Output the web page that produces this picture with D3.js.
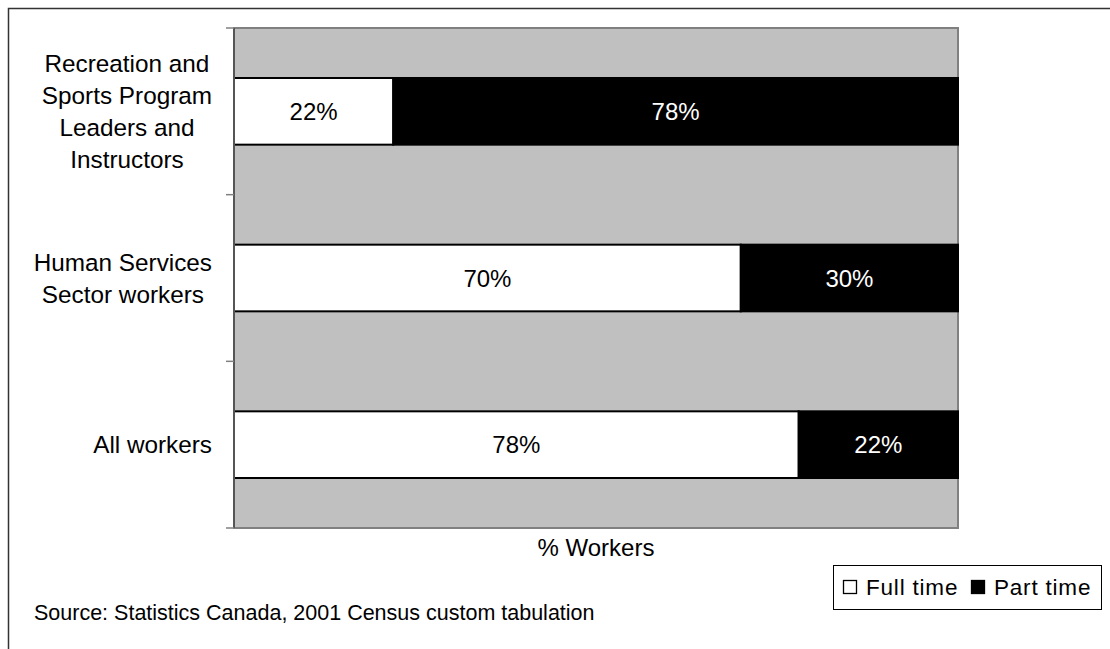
<!DOCTYPE html>
<html>
<head>
<meta charset="utf-8">
<script src="https://cdn.jsdelivr.net/npm/d3@7"></script>
<style>
  html, body { margin: 0; padding: 0; background: #fff; }
  svg { display: block; font-family: "Liberation Sans", Arial, sans-serif; }
</style>
</head>
<body>
<svg id="chart" width="1110" height="649"></svg>
<script>
// Occupation groups, shown top to bottom (each label wrapped onto lines)
const categories = [
  ["Recreation and", "Sports Program", "Leaders and", "Instructors"],
  ["Human Services", "Sector workers"],
  ["All workers"]
];
const fullTime = [22, 70, 78];
const partTime = [78, 30, 22];
const seriesNames = ["Full time", "Part time"];
const seriesFill = ["#ffffff", "#000000"];
const labelFill = ["#000000", "#ffffff"];
const xTitle = "% Workers";
const sourceNote = "Source: Statistics Canada, 2001 Census custom tabulation";

const svg = d3.select("#chart");
const plot = { left: 234, right: 958, top: 28, bottom: 528 };

// Outer frame
svg.append("rect")
  .attr("x", 8.5).attr("y", 8.5)
  .attr("width", 1200).attr("height", 700)
  .attr("fill", "none").attr("stroke", "#333").attr("stroke-width", 1.5);

const keys = categories.map((c, i) => i);
const y = d3.scaleBand().domain(keys).range([plot.top, plot.bottom]).paddingInner(0.6).paddingOuter(0.3);
const yBand = d3.scaleBand().domain(keys).range([plot.top, plot.bottom]);
const x = d3.scaleLinear().domain([0, 100]).range([plot.left, plot.right]);

// Plot area background
svg.append("rect")
  .attr("x", plot.left).attr("y", plot.top)
  .attr("width", plot.right - plot.left).attr("height", plot.bottom - plot.top)
  .attr("fill", "#c0c0c0").attr("stroke", "#808080").attr("stroke-width", 2);

// Stacked rows
const rows = keys.map(i => ({ i, values: [fullTime[i], partTime[i]] }));
const segs = [];
rows.forEach(r => {
  let acc = 0;
  r.values.forEach((v, s) => {
    segs.push({ i: r.i, s, x0: acc, x1: acc + v, v });
    acc += v;
  });
});

svg.append("g").selectAll("rect").data(segs).join("rect")
  .attr("x", d => x(d.x0))
  .attr("y", d => y(d.i))
  .attr("width", d => x(d.x1) - x(d.x0))
  .attr("height", y.bandwidth())
  .attr("fill", d => seriesFill[d.s])
  .attr("stroke", "#000").attr("stroke-width", 2);

svg.append("g").selectAll("text").data(segs).join("text")
  .attr("x", d => (x(d.x0) + x(d.x1)) / 2)
  .attr("y", d => y(d.i) + y.bandwidth() / 2)
  .attr("dy", "0.36em")
  .attr("text-anchor", "middle")
  .attr("font-size", 24)
  .attr("fill", d => labelFill[d.s])
  .text(d => d.v + "%");

// Category axis: line plus tick marks at band boundaries
const axis = svg.append("g");
axis.append("line")
  .attr("x1", plot.left).attr("x2", plot.left)
  .attr("y1", plot.top).attr("y2", plot.bottom)
  .attr("stroke", "#555").attr("stroke-width", 2);
const tickYs = keys.map(i => yBand(i)).concat([plot.bottom]);
axis.selectAll("line.tick").data(tickYs).join("line")
  .attr("class", "tick")
  .attr("x1", plot.left - 8).attr("x2", plot.left)
  .attr("y1", d => d).attr("y2", d => d)
  .attr("stroke", "#808080").attr("stroke-width", 1.5);

// Category labels: block right-aligned, lines centred within it
const lineH = 32;
keys.forEach(i => {
  const lines = categories[i];
  const g = svg.append("g");
  const cy = yBand(i) + yBand.bandwidth() / 2;
  const texts = g.selectAll("text").data(lines).join("text")
    .attr("font-size", 24.3)
    .attr("fill", "#000")
    .attr("text-anchor", "middle")
    .attr("y", (d, k) => cy + (k - (lines.length - 1) / 2) * lineH)
    .attr("dy", "0.36em")
    .text(d => d);
  let maxW = 0;
  texts.each(function () { maxW = Math.max(maxW, this.getComputedTextLength()); });
  texts.attr("x", 212 - maxW / 2);
});

// Axis title
svg.append("text")
  .attr("x", (plot.left + plot.right) / 2).attr("y", 556)
  .attr("text-anchor", "middle").attr("font-size", 24)
  .text(xTitle);

// Legend
const legend = svg.append("g");
legend.append("rect")
  .attr("x", 833.5).attr("y", 565.5).attr("width", 268).attr("height", 44)
  .attr("fill", "#fff").attr("stroke", "#000").attr("stroke-width", 1);
const legX = [843, 971];
seriesNames.forEach((name, s) => {
  legend.append("rect")
    .attr("x", legX[s] + 0.5).attr("y", 580.5).attr("width", 13).attr("height", 13)
    .attr("fill", seriesFill[s]).attr("stroke", "#000").attr("stroke-width", 1.3);
  legend.append("text")
    .attr("x", legX[s] + 23).attr("y", 595)
    .attr("font-size", 22.5).attr("letter-spacing", 0.8)
    .text(name);
});

// Source note
svg.append("text")
  .attr("x", 34).attr("y", 620)
  .attr("font-size", 21.5)
  .text(sourceNote);
</script>
</body>
</html>
